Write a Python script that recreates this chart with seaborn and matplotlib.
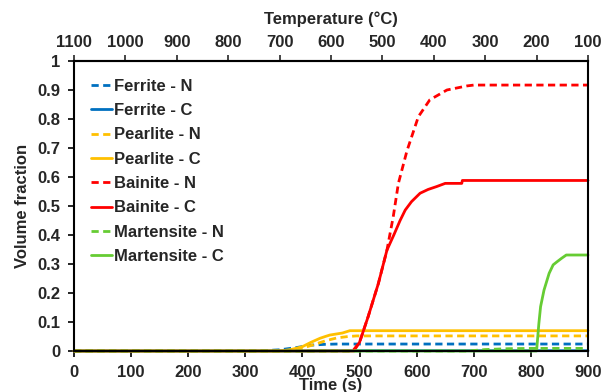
import numpy as np
import pandas as pd
import matplotlib
matplotlib.use("Agg")
import matplotlib.pyplot as plt
import seaborn as sns

# Phase fractions vs. time (N = one model, C = the other)
ferrite_n_t = [0, 320, 360, 390, 414, 440, 460, 900]
ferrite_n_v = [0, 0, 0.004, 0.012, 0.020, 0.023, 0.024, 0.024]
ferrite_c_t = [0, 400, 500, 900]
ferrite_c_v = [0, 0, 0.001, 0.001]

pearlite_n_t = [0, 375, 400, 420, 440, 460, 480, 495, 900]
pearlite_n_v = [0, 0, 0.010, 0.022, 0.035, 0.045, 0.050, 0.052, 0.052]
pearlite_c_t = [0, 360, 380, 400, 415, 431, 440, 448, 470, 483, 900]
pearlite_c_v = [0, 0, 0.005, 0.015, 0.030, 0.044, 0.050, 0.055, 0.062, 0.070, 0.070]

bainite_n_t = [0, 488, 500, 515, 533, 548, 559, 568, 583, 603, 623, 653, 688, 700, 900]
bainite_n_v = [0, 0, 0.030, 0.118, 0.233, 0.348, 0.463, 0.578, 0.690, 0.808, 0.866,
               0.900, 0.914, 0.917, 0.917]
bainite_c_t = [0, 490, 500, 515, 533, 548, 560, 571, 580, 591, 606, 620, 635, 650, 679,
               680, 900]
bainite_c_v = [0, 0, 0.030, 0.118, 0.233, 0.348, 0.400, 0.450, 0.486, 0.515, 0.544,
               0.557, 0.567, 0.578, 0.578, 0.588, 0.588]

martensite_n_t = [0, 690, 720, 760, 800, 900]
martensite_n_v = [0, 0, 0.005, 0.008, 0.009, 0.009]
martensite_c_t = [0, 810, 814, 817, 823, 832, 839, 846, 854, 862, 900]
martensite_c_v = [0, 0, 0.095, 0.153, 0.210, 0.268, 0.297, 0.308, 0.320, 0.331, 0.331]

labels = ["Ferrite - N", "Ferrite - C", "Pearlite - N", "Pearlite - C",
          "Bainite - N", "Bainite - C", "Martensite - N", "Martensite - C"]
series_t = [ferrite_n_t, ferrite_c_t, pearlite_n_t, pearlite_c_t,
            bainite_n_t, bainite_c_t, martensite_n_t, martensite_c_t]
series_v = [ferrite_n_v, ferrite_c_v, pearlite_n_v, pearlite_c_v,
            bainite_n_v, bainite_c_v, martensite_n_v, martensite_c_v]

x_ticks = list(range(0, 901, 100))
y_ticks = [0, 0.1, 0.2, 0.3, 0.4, 0.5, 0.6, 0.7, 0.8, 0.9, 1]
y_tick_labels = ["0", "0.1", "0.2", "0.3", "0.4", "0.5", "0.6", "0.7", "0.8", "0.9", "1"]
temp_ticks = list(range(1100, 99, -100))

colors = {"Ferrite": "#0070C0", "Pearlite": "#FFC000",
          "Bainite": "#FF0000", "Martensite": "#66CC33"}

sns.set_theme(style="ticks")
plt.rcParams["font.family"] = ["Liberation Sans", "DejaVu Sans"]
plt.rcParams["font.weight"] = "bold"
plt.rcParams["axes.labelweight"] = "bold"

frames = []
for lab, t, v in zip(labels, series_t, series_v):
    frames.append(pd.DataFrame({"Time": t, "Fraction": v, "Series": lab}))
df = pd.concat(frames, ignore_index=True)

fig = plt.figure(figsize=(6.03, 3.92), dpi=100)
ax = fig.add_axes([0.1227, 0.1046, 0.8524, 0.7398])

dash = (0, (2.6, 1.6))
for lab in labels:
    phase, model = lab.split(" - ")
    sub = df[df["Series"] == lab]
    sns.lineplot(data=sub, x="Time", y="Fraction", ax=ax, color=colors[phase],
                 linewidth=2.0, label=lab, estimator=None, sort=False)
    line = ax.lines[-1]
    line.set_clip_on(False)
    if model == "N":
        line.set_linestyle(dash)

ax.set_xlim(0, 900)
ax.set_ylim(0, 1)
ax.set_xticks(x_ticks)
ax.set_yticks(y_ticks)
ax.set_yticklabels(y_tick_labels)
ax.set_xlabel("Time (s)", fontsize=12, fontweight="bold", labelpad=-1.5)
ax.set_ylabel("Volume fraction", fontsize=12, fontweight="bold", labelpad=5)
ax.tick_params(axis="x", labelsize=12, direction="out", length=4, width=1.2,
               color="black", pad=6)
ax.tick_params(axis="y", labelsize=12, direction="out", length=4, width=1.2,
               color="black", pad=6)
for lbl in ax.get_xticklabels() + ax.get_yticklabels():
    lbl.set_fontweight("bold")
for sp in ax.spines.values():
    sp.set_visible(True)
    sp.set_color("black")
    sp.set_linewidth(1.5)

sec = ax.secondary_xaxis("top", functions=(lambda t: 1100 - t * 1000.0 / 900.0,
                                           lambda T: (1100 - T) * 900.0 / 1000.0))
sec.set_xticks(temp_ticks)
sec.set_xlabel("Temperature (°C)", fontsize=12, fontweight="bold", labelpad=8)
sec.tick_params(axis="x", labelsize=12, direction="out", length=4, width=1.2, pad=4)
for lbl in sec.get_xticklabels():
    lbl.set_fontweight("bold")
sec.spines["top"].set_linewidth(1.5)

leg = ax.legend(loc="upper left", bbox_to_anchor=(0.02, 0.962), frameon=False,
                fontsize=12, handlelength=1.25, handletextpad=0.15, labelspacing=0.56,
                borderaxespad=0)
for txt in leg.get_texts():
    txt.set_fontweight("bold")
for h, lab in zip(leg.get_lines(), labels):
    h.set_linewidth(2.0)
    if lab.endswith("N"):
        h.set_linestyle(dash)

fig.savefig("out.png", dpi=100)
